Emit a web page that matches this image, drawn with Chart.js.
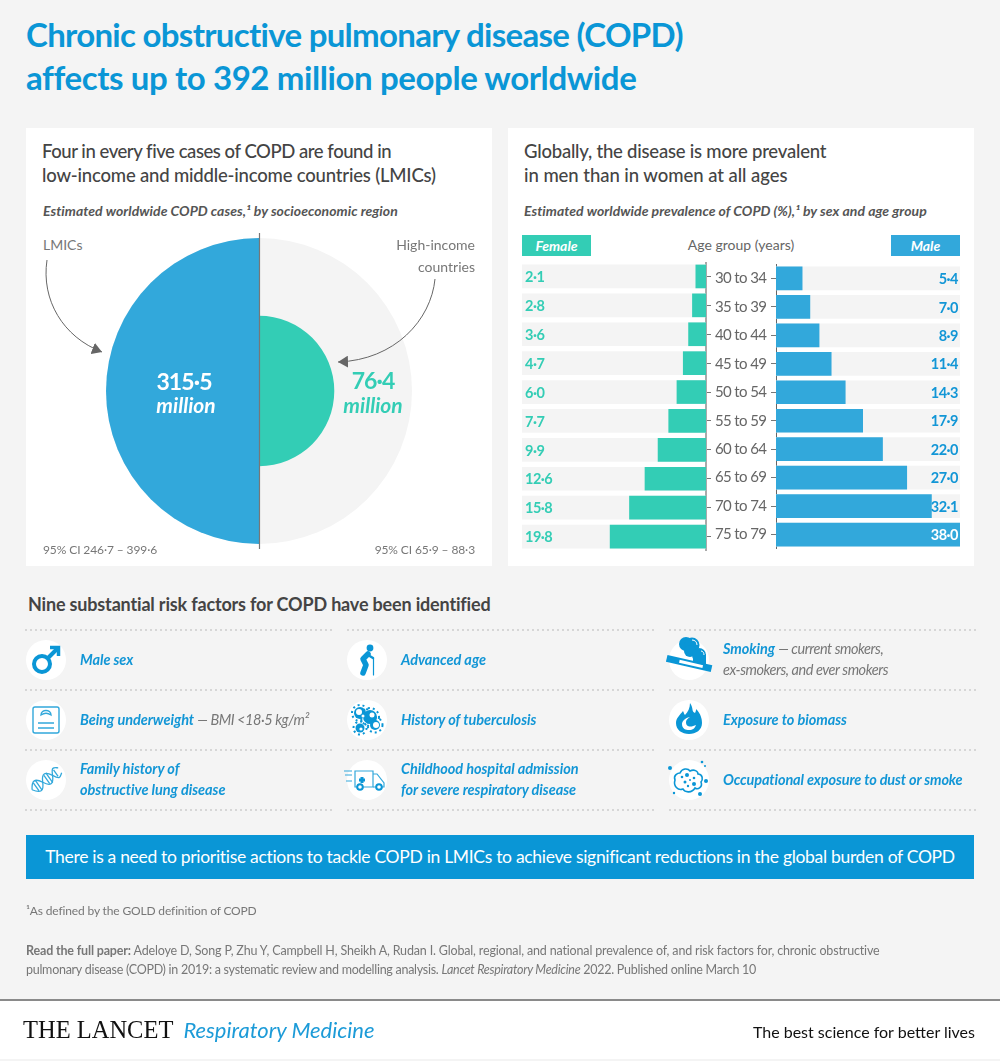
<!DOCTYPE html>
<html lang="en">
<head>
<meta charset="UTF-8">
<title>COPD worldwide</title>
<script src="https://cdn.jsdelivr.net/npm/chart.js"></script>
<style>
  html, body { margin: 0; padding: 0; background: #f4f4f4; }
  body { width: 1000px; height: 1061px; position: relative; overflow: hidden; font-family: Lato, "Noto Sans", sans-serif; color: #666; }
  .t { position: absolute; white-space: nowrap; }
  .r { text-align: right; }
  .c { text-align: center; }
  .panel { position: absolute; background: #fff; top: 128px; width: 466px; height: 438px; }
  .head { font-size: 18.5px; line-height: 24px; font-weight: 500; color: #444; }
  .sub { font-size: 14px; line-height: 18px; font-weight: 700; font-style: italic; color: #555; letter-spacing: 0.03px; }
  .note { font-size: 14px; color: #777; line-height: 22px; }
  .ci { font-size: 12px; letter-spacing: -0.1px; }
  .big { width: 120px; font-size: 23px; line-height: 30px; font-weight: 700; letter-spacing: -0.9px; }
  .mil { width: 120px; font-size: 21px; line-height: 26px; font-weight: 700; font-style: italic; }
  .risk { font-size: 14.5px; line-height: 21px; color: #1296d6; font-weight: 700; font-style: italic; letter-spacing: -0.05px; }
  .risk span { font-weight: 400; color: #777; letter-spacing: -0.45px; }
  .dots { position: absolute; height: 2px; width: 307px; background: repeating-linear-gradient(90deg, #d6d6d6 0 2px, transparent 2px 5px); }
  canvas { position: absolute; }
  svg { position: absolute; left: 0; top: 0; }
</style>
</head>
<body>
  <div class="t" style="left:26px;top:13px;font-size:33px;line-height:43px;font-weight:700;color:#0a96d6"><span style="letter-spacing:-0.7px">Chronic obstructive pulmonary disease (COPD)</span><br><span style="letter-spacing:-0.4px">affects up to 392 million people worldwide</span></div>

  <div class="panel" style="left:26px"></div>
  <div class="panel" style="left:508px"></div>

  <!-- left panel -->
  <div class="t head" style="left:42px;top:139px"><span style="letter-spacing:-0.45px">Four in every five cases of COPD are found in</span><br><span style="letter-spacing:-0.19px">low-income and middle-income countries (LMICs)</span></div>
  <div class="t sub" style="left:43px;top:202px">Estimated worldwide COPD cases,¹ by socioeconomic region</div>
  <canvas id="regionChart" style="left:106px;top:238px"></canvas>
  <div class="t note" style="left:43px;top:234px">LMICs</div>
  <div class="t note r" style="right:525px;top:234px">High-income<br>countries</div>
  <div class="t c big" style="left:124px;top:366px;color:#fff">315·5</div>
  <div class="t c mil" style="left:126px;top:392px;color:#fff">million</div>
  <div class="t c big" style="left:313px;top:365px;color:#33cdb5">76·4</div>
  <div class="t c mil" style="left:313px;top:392px;color:#33cdb5">million</div>
  <div class="t note ci" style="left:43px;top:539px">95% CI 246·7 – 399·6</div>
  <div class="t note r ci" style="right:525px;top:539px">95% CI 65·9 – 88·3</div>

  <!-- right panel -->
  <div class="t head" style="left:524px;top:139px"><span style="letter-spacing:-0.22px">Globally, the disease is more prevalent</span><br><span style="letter-spacing:-0.05px">in men than in women at all ages</span></div>
  <div class="t sub" style="left:524px;top:202px">Estimated worldwide prevalence of COPD (%),¹ by sex and age group</div>
  <div class="t c" style="left:522px;width:69px;top:235px;height:21px;line-height:21px;background:#33cdb5;color:#fff;font-size:14px;font-weight:700;font-style:italic">Female</div>
  <div class="t c" style="left:891px;width:69px;top:235px;height:21px;line-height:21px;background:#32a8db;color:#fff;font-size:14px;font-weight:700;font-style:italic">Male</div>
  <div class="t c" style="left:641px;width:200px;top:235px;line-height:20px;font-size:14px;color:#666">Age group (years)</div>
  <canvas id="femaleChart" style="left:522px;top:262px"></canvas>
  <canvas id="maleChart" style="left:707px;top:262px"></canvas>

  <!-- risk factors -->
  <div class="t" style="left:28px;top:592px;font-size:18px;line-height:24px;font-weight:700;color:#444;letter-spacing:-0.17px">Nine substantial risk factors for COPD have been identified</div>
  <div class="dots" style="left:25px;top:629px"></div><div class="dots" style="left:347px;top:629px"></div><div class="dots" style="left:669px;top:629px"></div>
  <div class="dots" style="left:25px;top:689px"></div><div class="dots" style="left:347px;top:689px"></div><div class="dots" style="left:669px;top:689px"></div>
  <div class="dots" style="left:25px;top:749px"></div><div class="dots" style="left:347px;top:749px"></div><div class="dots" style="left:669px;top:749px"></div>
  <div class="dots" style="left:25px;top:809px"></div><div class="dots" style="left:347px;top:809px"></div><div class="dots" style="left:669px;top:809px"></div>

  <svg width="1000" height="1061" viewBox="0 0 1000 1061">
    <defs>
      <marker id="head" markerUnits="userSpaceOnUse" markerWidth="12" markerHeight="12" refX="10" refY="6" orient="auto"><path d="M0 0L10 6L0 12z" fill="#666"/></marker>
    </defs>
    <!-- arrows and divider of the left panel -->
    <path d="M259.5 233V549" stroke="#777" stroke-width="1.2"/>
    <path d="M47 260C41 300 63 337 102 352" fill="none" stroke="#666" stroke-width="1" marker-end="url(#head)"/>
    <path d="M435 279C431 320 395 360 338 362" fill="none" stroke="#666" stroke-width="1" marker-end="url(#head)"/>

    <g fill="#fff">
      <circle cx="46" cy="660" r="20"/><circle cx="46" cy="720" r="20"/><circle cx="46" cy="780" r="20"/>
      <circle cx="367" cy="660" r="20"/><circle cx="367" cy="720" r="20"/><circle cx="367" cy="780" r="20"/>
      <circle cx="689" cy="660" r="20"/><circle cx="689" cy="720" r="20"/><circle cx="689" cy="780" r="20"/>
    </g>
    <!-- male -->
    <g transform="translate(46 660)" fill="none" stroke="#0a96d6" stroke-width="4">
      <circle cx="-4" cy="4" r="8"/><path d="M2 -2L11 -11"/><path d="M4 -12.5H12.5V-4" stroke-width="3.5"/>
    </g>
    <!-- scale -->
    <g transform="translate(46 720)" fill="none" stroke="#32a8db" stroke-width="1.4">
      <rect x="-13" y="-13" width="26" height="26" rx="2"/>
      <path d="M-5 -5C-5 -11 5 -11 5 -5C2 -7 -2 -7 -5 -5z"/>
      <path d="M-8 3H8M-8 8H8"/>
    </g>
    <!-- dna -->
    <g transform="translate(46 780) rotate(-35)" fill="none" stroke="#32a8db" stroke-width="1.3">
      <path d="M-17 0C-12 -8 -8 -8 -4 0S4 8 8 0S13 -6 17 -3"/>
      <path d="M-17 0C-12 8 -8 8 -4 0S4 -8 8 0S13 6 17 3"/>
      <path d="M-12 -5V5M-9 -6V6M1 -5V5M4 -6V6M12 -4V4"/>
    </g>
    <!-- old person -->
    <g transform="translate(367 660)" fill="none" stroke="#0a96d6" stroke-linecap="round">
      <circle cx="3" cy="-12" r="3.4" fill="#0a96d6" stroke="none"/>
      <path d="M1 -6L-4 -1L-1 5L-4 13" stroke-width="5.5" stroke-linejoin="round"/>
      <path d="M1 -5L6 -2" stroke-width="2.5"/>
      <path d="M6.5 -2V15" stroke-width="1.2"/>
    </g>
    <!-- tuberculosis -->
    <g transform="translate(367 720)" fill="#0a96d6" stroke="#0a96d6">
      <g stroke="none"><circle cx="-7" cy="-7" r="6"/><circle cx="3" cy="-3" r="7"/><circle cx="8" cy="5" r="5"/><circle cx="-7" cy="8" r="4.5"/></g>
      <g fill="none" stroke-width="2" stroke-dasharray="2 3"><circle cx="-7" cy="-7" r="8"/><circle cx="3" cy="-3" r="9"/><circle cx="8" cy="5" r="7.5"/><circle cx="-7" cy="8" r="6.5"/></g>
      <g fill="#fff" stroke="none"><circle cx="-8" cy="-8" r="3"/><circle cx="5" cy="-5" r="2.5"/><circle cx="9" cy="5" r="3"/><circle cx="-4" cy="-4" r="1.5"/><circle cx="-6" cy="9" r="1.6"/></g>
    </g>
    <!-- ambulance -->
    <g transform="translate(367 780)" fill="none" stroke="#32a8db" stroke-width="1.2">
      <path d="M-12 -9H6V7H-12z"/><path d="M6 -6H10L17 3V7H6"/>
      <path d="M-5 -3V3M-8 0H-2" stroke="#0a96d6" stroke-width="3"/>
      <path d="M-23 -9H-15M-22 -5H-15M-21 1H-15"/>
      <circle cx="-7" cy="7" r="2.8" fill="#fff" stroke="#0a96d6" stroke-width="2"/><circle cx="12" cy="7" r="2.8" fill="#fff" stroke="#0a96d6" stroke-width="2"/>
    </g>
    <!-- smoking -->
    <g transform="translate(689 660)">
      <g fill="#0a96d6"><circle cx="-3" cy="-16" r="7"/><circle cx="3" cy="-15" r="7.5"/><circle cx="1" cy="-9" r="6"/><circle cx="10" cy="-5" r="7"/><rect x="4" y="-6" width="13" height="12"/></g>
      <path d="M3 -20C6 -20 8 -18 8 -15M12 -9C14 -9 15 -7 15 -5" fill="none" stroke="#fff" stroke-width="1"/>
      <g transform="rotate(13 0 4)"><rect x="-23" y="0" width="46" height="7" fill="#0a96d6"/><rect x="-10" y="2" width="24" height="3" fill="#fff"/></g>
    </g>
    <!-- biomass -->
    <g transform="translate(689 720)" fill="#0a96d6">
      <path d="M1 -17C5 -11 2 -9 6 -7C7 -9 7 -10 7 -11C12 -6 13 -1 13 3C13 10 7 14 0 14C-7 14 -13 10 -13 3C-13 -2 -9 -5 -6 -9C-5 -7 -5 -6 -4 -5C-1 -8 1 -12 1 -17z"/>
      <path d="M7 5C3 7 -3 8 -3 2C-3 0 -1 -2 1 -3C-5 -2 -7 2 -7 4C-7 9 -3 10 0 10C4 10 6 8 7 5z" fill="#fff"/>
    </g>
    <!-- dust -->
    <g transform="translate(689 780)">
      <path d="M-14 0C-16 -5 -11 -7 -9 -7C-7 -12 -1 -12 1 -9C5 -11 9 -9 9 -6C14 -6 14 0 12 2C14 7 9 10 6 8C3 13 -4 13 -6 9C-11 11 -16 6 -14 0z" fill="none" stroke="#0a96d6" stroke-width="1.6"/>
      <g fill="#0a96d6"><circle cx="-2" cy="-5" r="2"/><circle cx="-7" cy="-3" r="1.3"/><circle cx="5" cy="-2" r="1.3"/><circle cx="1" cy="0" r="1"/><circle cx="-4" cy="2" r="1.5"/><circle cx="5" cy="4" r="2"/><circle cx="-1" cy="6" r="1.2"/><circle cx="-19" cy="-12" r="2"/><circle cx="17" cy="1" r="2"/><circle cx="11" cy="14" r="2"/><circle cx="13" cy="-18" r="1.3"/><circle cx="-15" cy="13" r="1.2"/><circle cx="16" cy="-14" r="1"/></g>
    </g>
  </svg>

  <div class="t risk" style="left:80px;top:649px">Male sex</div>
  <div class="t risk" style="left:80px;top:709px">Being underweight <span>— BMI &lt;18·5 kg/m²</span></div>
  <div class="t risk" style="left:80px;top:758px">Family history of<br>obstructive lung disease</div>
  <div class="t risk" style="left:401px;top:649px">Advanced age</div>
  <div class="t risk" style="left:401px;top:709px">History of tuberculosis</div>
  <div class="t risk" style="left:401px;top:758px">Childhood hospital admission<br>for severe respiratory disease</div>
  <div class="t risk" style="left:723px;top:638px">Smoking <span>— current smokers,<br>ex-smokers, and ever smokers</span></div>
  <div class="t risk" style="left:723px;top:709px">Exposure to biomass</div>
  <div class="t risk" style="left:723px;top:769px;letter-spacing:-0.13px">Occupational exposure to dust or smoke</div>

  <div class="t c" style="left:26px;width:948px;top:835px;height:44px;line-height:44px;background:#0a96d6;color:#fff;font-size:17.5px;letter-spacing:-0.31px">There is a need to prioritise actions to tackle COPD in LMICs to achieve significant reductions in the global burden of COPD</div>

  <div class="t" style="left:26px;top:902px;font-size:12px;line-height:18px;color:#777;letter-spacing:-0.15px">¹As defined by the GOLD definition of COPD</div>
  <div class="t" style="left:26px;top:941px;font-size:12.5px;line-height:19px;color:#777"><span style="letter-spacing:-0.16px"><b>Read the full paper:</b> Adeloye D, Song P, Zhu Y, Campbell H, Sheikh A, Rudan I. Global, regional, and national prevalence of, and risk factors for, chronic obstructive</span><br><span style="letter-spacing:-0.27px">pulmonary disease (COPD) in 2019: a systematic review and modelling analysis. <i>Lancet Respiratory Medicine</i> 2022. Published online March 10</span></div>

  <div style="position:absolute;left:0;top:999px;width:1000px;height:60px;background:#fff;border-top:2px solid #8a8a8a;box-sizing:border-box"></div>
  <div class="t" style="left:23px;top:1014px;line-height:32px;font-family:'Liberation Serif',serif;font-size:24.5px;color:#111">THE LANCET<span style="font-family:Lato,sans-serif;font-style:italic;font-size:22px;color:#1c9bd8;margin-left:10px">Respiratory Medicine</span></div>
  <div class="t r" style="right:25px;top:1020px;line-height:24px;font-size:16px;color:#111">The best science for better lives</div>

<script>
const regionLabels = ['High-income countries', 'LMICs'];
const regionCases = [76.4, 315.5];      // millions

const ageGroups = ['30 to 34', '35 to 39', '40 to 44', '45 to 49', '50 to 54', '55 to 59', '60 to 64', '65 to 69', '70 to 74', '75 to 79'];
const femaleValues = [2.1, 2.8, 3.6, 4.7, 6.0, 7.7, 9.9, 12.6, 15.8, 19.8];
const maleValues = [5.4, 7.0, 8.9, 11.4, 14.3, 17.9, 22.0, 27.0, 32.1, 38.0];
const axisMax = 38;

const TEAL = '#33cdb5', BLUE = '#32a8db', TRACK = '#f4f4f4';

function sizeCanvas(id, w, h) {
  const c = document.getElementById(id);
  c.width = w; c.height = h;
  c.style.width = w + 'px'; c.style.height = h + 'px';
}

sizeCanvas('regionChart', 307, 307);
sizeCanvas('femaleChart', 190, 289);
sizeCanvas('maleChart', 253, 289);

// circle areas are proportional to the cases, so the radial scale runs on the square root
new Chart(document.getElementById('regionChart'), {
  type: 'polarArea',
  data: {
    labels: regionLabels,
    datasets: [{ data: regionCases.map(Math.sqrt), backgroundColor: [TEAL, BLUE], borderWidth: 0 }]
  },
  options: {
    responsive: false,
    animation: false,
    plugins: { legend: { display: false }, tooltip: { enabled: false } },
    scales: {
      r: {
        min: 0,
        max: Math.sqrt(Math.max(...regionCases)),
        backgroundColor: TRACK,
        ticks: { display: false },
        grid: { display: false },
        angleLines: { display: false }
      }
    }
  }
});

// value label at the outer end of each row, tighter spacing for the tick text too
const rowLabels = {
  id: 'rowLabels',
  beforeDraw(chart) {
    chart.ctx.letterSpacing = '-0.6px';
  },
  afterDatasetsDraw(chart, args, opts) {
    const { ctx, chartArea } = chart;
    const meta = chart.getDatasetMeta(0);
    ctx.save();
    ctx.font = '700 14.5px Lato';
    ctx.letterSpacing = '-0.5px';
    ctx.textBaseline = 'middle';
    ctx.textAlign = opts.side;
    const x = opts.side === 'left' ? chartArea.left + 3 : chartArea.right - 2;
    chart.data.datasets[0].data.forEach((v, i) => {
      ctx.fillStyle = v >= axisMax ? '#fff' : opts.color;
      ctx.fillText(v.toFixed(1).replace('.', '·'), x, meta.data[i].y + 1);
    });
    ctx.restore();
  }
};

function rowChart(id, values, color, o) {
  return new Chart(document.getElementById(id), {
    type: 'bar',
    data: {
      labels: ageGroups,
      datasets: [
        { data: values, backgroundColor: color, barThickness: 23, grouped: false, order: 1 },
        { data: ageGroups.map(() => axisMax), backgroundColor: TRACK, barThickness: 23, grouped: false, order: 2 }
      ]
    },
    plugins: [rowLabels],
    options: {
      indexAxis: 'y',
      responsive: false,
      animation: false,
      layout: { padding: 0 },
      plugins: {
        legend: { display: false },
        tooltip: { enabled: false },
        rowLabels: { side: o.side, color: o.labelColor }
      },
      scales: {
        x: { display: false, min: 0, max: axisMax, reverse: o.reverse },
        y: {
          position: o.axis,
          afterFit(s) { s.width = o.axisWidth; },
          border: { color: o.border, width: o.borderWidth },
          grid: { offset: false, drawOnChartArea: false, color: '#777', tickLength: 5 },
          ticks: {
            display: o.showAges,
            autoSkip: false,
            crossAlign: 'center',
            padding: 2.2,
            color: '#666',
            // line height 0 keeps the labels from shrinking the plot height
            font: { family: 'Lato', size: 15, lineHeight: 0 }
          }
        }
      }
    }
  });
}

rowChart('femaleChart', femaleValues, TEAL, { side: 'left', labelColor: TEAL, reverse: true, axis: 'right', axisWidth: 6, border: '#aaa', borderWidth: 2, showAges: false });
rowChart('maleChart', maleValues, BLUE, { side: 'right', labelColor: '#1296d6', reverse: false, axis: 'left', axisWidth: 69, border: '#666', borderWidth: 1, showAges: true });
</script>
</body>
</html>
